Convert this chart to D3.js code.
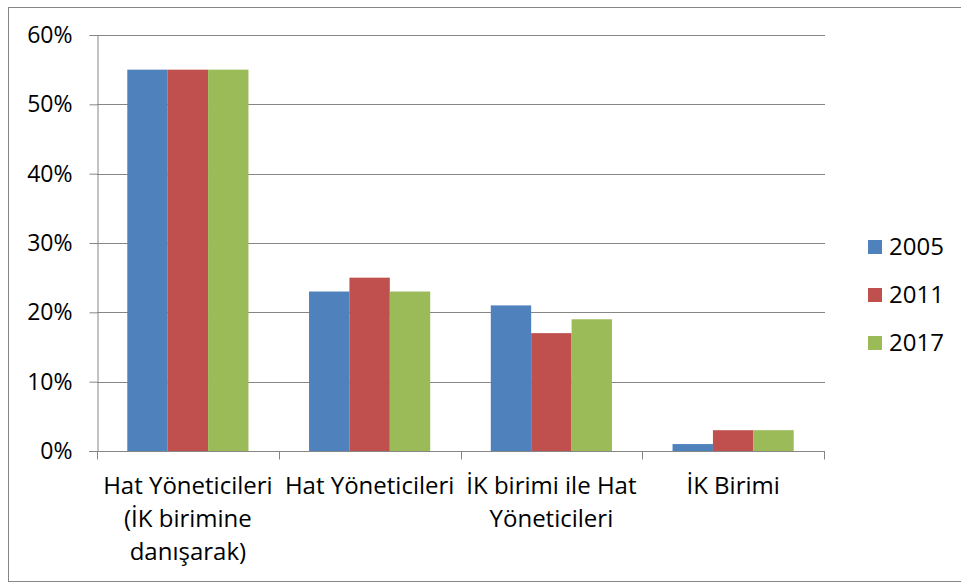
<!DOCTYPE html>
<html>
<head>
<meta charset="utf-8">
<script src="https://cdn.jsdelivr.net/npm/d3@7"></script>
<style>
  body { margin: 0; background: #fff; }
  svg text { font-family: "Open Sans", "Noto Sans", sans-serif; fill: #000; }
</style>
</head>
<body>
<div id="chart"></div>
<script>
// chart data
var categories = [
    ["Hat Yöneticileri", "(İK birimine", "danışarak)"],
    ["Hat Yöneticileri"],
    ["İK birimi ile Hat", "Yöneticileri"],
    ["İK Birimi"]
];
var seriesNames = ["2005", "2011", "2017"];
var values2005 = [0.55, 0.23, 0.21, 0.01];
var values2011 = [0.55, 0.25, 0.17, 0.03];
var values2017 = [0.55, 0.23, 0.19, 0.03];
var seriesColors = ["#4f81bd", "#c0504d", "#9bbb59"];
var yTicks = [0, 0.1, 0.2, 0.3, 0.4, 0.5, 0.6];

var series = [values2005, values2011, values2017];

var width = 961, height = 583;
var plot = { left: 97, right: 824, top: 35, bottom: 451 };

var svg = d3.select("#chart").append("svg")
    .attr("width", width)
    .attr("height", height);

// outer chart border
svg.append("rect")
    .attr("x", 8.5).attr("y", 7.5)
    .attr("width", 960).attr("height", 574)
    .attr("fill", "none")
    .attr("stroke", "#868686");

var x0 = d3.scaleBand()
    .domain(d3.range(categories.length))
    .range([plot.left, plot.right])
    .paddingInner(0).paddingOuter(0);

var x1 = d3.scaleBand()
    .domain(d3.range(seriesNames.length))
    .range([0, x0.bandwidth()])
    .paddingOuter(0.75).paddingInner(0);

var y = d3.scaleLinear()
    .domain([0, 0.6])
    .range([plot.bottom, plot.top]);

// gridlines
svg.append("g")
    .selectAll("line")
    .data(yTicks.slice(1))
    .enter().append("line")
    .attr("x1", plot.left).attr("x2", plot.right + 1)
    .attr("y1", function(d) { return Math.round(y(d)) + 0.5; })
    .attr("y2", function(d) { return Math.round(y(d)) + 0.5; })
    .attr("stroke", "#868686");

// y axis
var yAxis = svg.append("g")
    .attr("transform", "translate(" + (plot.left + 0.5) + ",0)")
    .call(d3.axisLeft(y).tickValues(yTicks).tickFormat(d3.format(".0%")).tickSizeOuter(0).tickSize(8).tickPadding(17));
yAxis.attr("font-size", 23).attr("font-family", null);
yAxis.selectAll("line, path").attr("stroke", "#868686");
yAxis.selectAll("text").attr("fill", "#000");

// bars
var groups = svg.append("g")
    .selectAll("g")
    .data(categories)
    .enter().append("g")
    .attr("transform", function(d, i) { return "translate(" + x0(i) + ",0)"; });

groups.selectAll("rect")
    .data(function(d, i) {
        return series.map(function(s, j) { return { key: j, value: s[i] }; });
    })
    .enter().append("rect")
    .attr("x", function(d) { return x1(d.key); })
    .attr("width", x1.bandwidth())
    .attr("y", function(d) { return y(d.value); })
    .attr("height", function(d) { return plot.bottom - y(d.value); })
    .attr("fill", function(d) { return seriesColors[d.key]; });

// x axis
var xAxis = svg.append("g")
    .attr("transform", "translate(0," + (plot.bottom + 0.5) + ")");
xAxis.append("line")
    .attr("x1", plot.left - 8).attr("x2", plot.right + 1)
    .attr("stroke", "#868686");
xAxis.selectAll(".tick")
    .data(d3.range(categories.length + 1))
    .enter().append("line")
    .attr("x1", function(d) { return Math.round(plot.left + d * x0.bandwidth()) + 0.5; })
    .attr("x2", function(d) { return Math.round(plot.left + d * x0.bandwidth()) + 0.5; })
    .attr("y1", 0).attr("y2", 8)
    .attr("stroke", "#868686");

var labels = svg.append("g")
    .selectAll("text")
    .data(categories)
    .enter().append("text")
    .attr("text-anchor", "middle")
    .attr("font-size", 24)
    .attr("transform", function(d, i) { return "translate(" + (x0(i) + x0.bandwidth() / 2) + "," + 494 + ")"; });

labels.selectAll("tspan")
    .data(function(d) { return d; })
    .enter().append("tspan")
    .attr("x", 0)
    .attr("y", function(d, i) { return i * 33; })
    .text(function(d) { return d; });

// legend
var legend = svg.append("g")
    .selectAll("g")
    .data(seriesNames)
    .enter().append("g")
    .attr("transform", function(d, i) { return "translate(868," + [247, 295, 343][i] + ")"; });

legend.append("rect")
    .attr("x", 0).attr("y", -7)
    .attr("width", 14).attr("height", 14)
    .attr("fill", function(d, i) { return seriesColors[i]; });

legend.append("text")
    .attr("x", 21)
    .attr("dy", "0.35em")
    .attr("font-size", 24)
    .text(function(d) { return d; });
</script>
</body>
</html>
